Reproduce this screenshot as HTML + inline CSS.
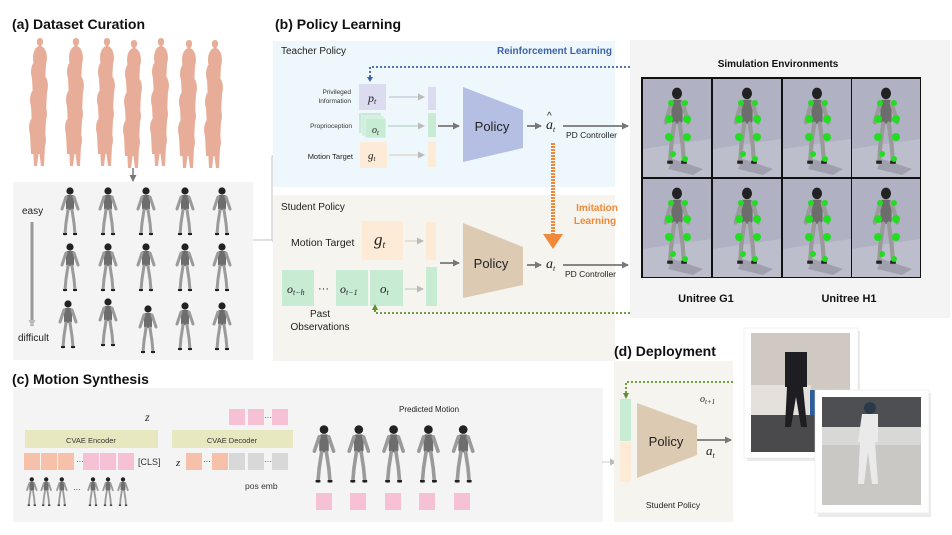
<!DOCTYPE html>
<html><head><meta charset="utf-8"><style>
html,body{margin:0;padding:0;background:#fff;width:952px;height:535px;overflow:hidden}
svg{display:block}
text{font-family:"Liberation Sans",Arial,sans-serif}
.t{font-weight:bold;font-size:14px;fill:#111}
.s{font-size:10px;fill:#222}
.i{font-family:"Liberation Serif",serif;font-style:italic;fill:#222}
</style></head><body>
<svg width="952" height="535" viewBox="0 0 952 535" xmlns="http://www.w3.org/2000/svg">
<defs>
<marker id="ag" markerWidth="8" markerHeight="8" refX="6" refY="4" orient="auto" markerUnits="userSpaceOnUse"><path d="M0,0.5 L7,4 L0,7.5 z" fill="#777"/></marker>
<marker id="al" markerWidth="8" markerHeight="8" refX="6" refY="4" orient="auto" markerUnits="userSpaceOnUse"><path d="M0,0.5 L7,4 L0,7.5 z" fill="#bbb"/></marker>
<g id="rb"><circle cx="10" cy="4" r="3.6" fill="#222"/><rect x="6" y="8" width="8" height="15" rx="2" fill="#6d6d6d"/><path d="M6,10 L2,22 M14,10 L18,22 M8,23 L6,36 L5,47 M12,23 L14,36 L15,47" stroke="#9a9a9a" stroke-width="3" fill="none" stroke-linecap="round"/><path d="M3,47 h4 M13,47 h4" stroke="#222" stroke-width="2"/></g>
<g id="hm"><path d="M10,0 C14,0 14,6 11,8 C17,10 18,20 16,26 L15,46 L12,46 L10,30 L8,46 L5,46 L4,26 C2,20 3,10 9,8 C6,6 6,0 10,0z" fill="#e8ad98"/></g>
<g id="col"><use href="#hm" x="2" y="0"/><use href="#hm" x="0" y="14"/><use href="#hm" x="3" y="28"/><use href="#hm" x="-1" y="42"/><use href="#hm" x="2" y="56"/><use href="#hm" x="-2" y="70"/><use href="#hm" x="1" y="82"/></g>
<g id="rbg"><rect x="0" y="0" width="68" height="98" fill="#b0b2c4"/><path d="M0,70 L68,60 L68,98 L0,98z" fill="#bdbecc"/><path d="M30,80 L60,90 L50,96 L25,90z" fill="#8a8b98" opacity="0.6"/><g transform="translate(20,8) scale(1.4,1.6)"><use href="#rb"/></g><circle cx="26" cy="40" r="4" fill="#22dd22"/><circle cx="44" cy="40" r="4" fill="#22dd22"/><circle cx="26" cy="58" r="4" fill="#22dd22"/><circle cx="44" cy="58" r="4" fill="#22dd22"/><circle cx="30" cy="75" r="3" fill="#22dd22"/><circle cx="42" cy="80" r="3" fill="#22dd22"/><circle cx="28" cy="24" r="3" fill="#22dd22"/><circle cx="42" cy="24" r="3" fill="#22dd22"/></g>
</defs>

<!-- (a) -->
<text x="12" y="29" class="t">(a) Dataset Curation</text>
<g>
<use href="#col" x="28" y="38"/>
<use href="#col" x="64" y="38"/>
<use href="#col" x="95" y="38"/>
<use href="#col" x="122" y="40"/>
<use href="#col" x="149" y="38"/>
<use href="#col" x="177" y="40"/>
<use href="#col" x="203" y="40"/>
</g>
<line x1="133" y1="168" x2="133" y2="181" stroke="#777" stroke-width="1.5" marker-end="url(#ag)"/>
<rect x="13" y="182" width="240" height="178" fill="#f4f4f4"/>
<text x="22" y="214" class="s">easy</text>
<line x1="32" y1="222" x2="32" y2="326" stroke="#999" stroke-width="3" marker-end="url(#al)"/>
<text x="18" y="341" class="s">difficult</text>
<g>
<use href="#rb" x="60" y="187"/><use href="#rb" x="98" y="187"/><use href="#rb" x="136" y="187"/><use href="#rb" x="175" y="187"/><use href="#rb" x="212" y="187"/>
<use href="#rb" x="60" y="243"/><use href="#rb" x="98" y="243"/><use href="#rb" x="136" y="243"/><use href="#rb" x="175" y="243"/><use href="#rb" x="212" y="243"/>
<use href="#rb" x="58" y="300"/><use href="#rb" x="98" y="298"/><use href="#rb" x="138" y="305"/><use href="#rb" x="175" y="302"/><use href="#rb" x="212" y="302"/>
</g>
<path d="M253,240 H272 V156" stroke="#ccc" stroke-width="1.2" fill="none"/>
<line x1="272" y1="156" x2="292" y2="156" stroke="#ccc" stroke-width="1.2" marker-end="url(#al)"/>
<line x1="272" y1="241" x2="286" y2="241" stroke="#ccc" stroke-width="1.2" marker-end="url(#al)"/>

<!-- (b) -->
<text x="275" y="29" class="t">(b) Policy Learning</text>
<rect x="273" y="41" width="342" height="146" fill="#eef8fc"/>
<rect x="273" y="195" width="342" height="166" fill="#f5f4ee"/>
<text x="281" y="54" font-size="10" fill="#222">Teacher Policy</text>
<text x="612" y="54" font-size="10" font-weight="bold" fill="#3c62a8" text-anchor="end">Reinforcement Learning</text>
<path d="M630,67 H370 V78" stroke="#3c62a8" stroke-width="1.8" stroke-dasharray="2,2" fill="none"/>
<path d="M367,77 L370,82 L373,77z" fill="#3c62a8"/>
<text x="351" y="94" font-size="6.5" fill="#333" text-anchor="end">Privileged</text>
<text x="351" y="103" font-size="6.5" fill="#333" text-anchor="end">Information</text>
<rect x="359" y="84" width="27" height="26" fill="#dcdcf0"/>
<text x="368" y="102" class="i" font-size="12">p<tspan font-size="8" dy="2">t</tspan></text>
<text x="352" y="128" font-size="6.5" fill="#333" text-anchor="end">Proprioception</text>
<rect x="359" y="113" width="22" height="20" fill="#c8ebd4"/><rect x="362" y="116" width="22" height="20" fill="#c8ebd4" stroke="#eef8fc" stroke-width="0.8"/><rect x="365" y="118" width="21" height="20" fill="#c8ebd4" stroke="#eef8fc" stroke-width="0.8"/>
<text x="372" y="133" class="i" font-size="10">o<tspan font-size="7" dy="2">t</tspan></text>
<text x="353" y="159" font-size="7.5" fill="#222" text-anchor="end">Motion Target</text>
<rect x="360" y="142" width="27" height="26" fill="#fdebd8"/>
<text x="368" y="159" class="i" font-size="11">g<tspan font-size="7" dy="2">t</tspan></text>
<rect x="428" y="87" width="8" height="23" fill="#dcdcf0"/>
<rect x="428" y="113" width="8" height="24" fill="#c8ebd4"/>
<rect x="428" y="142" width="8" height="25" fill="#fdebd8"/>
<line x1="389" y1="97" x2="424" y2="97" stroke="#b8b8d0" stroke-width="1" marker-end="url(#al)"/>
<line x1="388" y1="126" x2="424" y2="126" stroke="#aac8b8" stroke-width="1" marker-end="url(#al)"/>
<line x1="389" y1="155" x2="424" y2="155" stroke="#d8c8b8" stroke-width="1" marker-end="url(#al)"/>
<line x1="438" y1="126" x2="459" y2="126" stroke="#777" stroke-width="1.8" marker-end="url(#ag)"/>
<path d="M463,87 L523,110 L523,148 L463,162z" fill="#b4bfe3"/>
<text x="492" y="131" font-size="13" fill="#222" text-anchor="middle">Policy</text>
<line x1="527" y1="126" x2="541" y2="126" stroke="#777" stroke-width="1.8" marker-end="url(#ag)"/>
<text x="546" y="129" class="i" font-size="14">a<tspan font-size="8" dy="3">t</tspan></text>
<text x="547" y="119" font-size="10" fill="#222">^</text>
<line x1="563" y1="126" x2="628" y2="126" stroke="#777" stroke-width="1.8" marker-end="url(#ag)"/>
<text x="566" y="138" font-size="8.5" fill="#222">PD Controller</text>
<line x1="553" y1="143" x2="553" y2="236" stroke="#f08a3a" stroke-width="4" stroke-dasharray="2,1"/>
<path d="M543,234 L563,234 L553,249z" fill="#f08a3a"/>
<text x="597" y="211" font-size="10" font-weight="bold" fill="#f08a3a" text-anchor="middle">Imitation</text>
<text x="595" y="224" font-size="10" font-weight="bold" fill="#f08a3a" text-anchor="middle">Learning</text>

<text x="281" y="210" font-size="10" fill="#222">Student Policy</text>
<text x="291" y="246" font-size="10.5" fill="#222">Motion Target</text>
<rect x="362" y="221" width="41" height="39" fill="#fdebd8"/>
<text x="374" y="245" class="i" font-size="17">g<tspan font-size="10" dy="3">t</tspan></text>
<rect x="426" y="222" width="10" height="38" fill="#fdebd8"/>
<line x1="405" y1="241" x2="423" y2="241" stroke="#d8c8b8" stroke-width="1" marker-end="url(#al)"/>
<rect x="282" y="270" width="32" height="36" fill="#c8ebd4"/>
<rect x="336" y="270" width="32" height="36" fill="#c8ebd4"/>
<rect x="370" y="270" width="33" height="36" fill="#c8ebd4"/>
<text x="287" y="293" class="i" font-size="12">o<tspan font-size="8" dy="2">t−h</tspan></text>
<text x="318" y="292" font-size="11" fill="#222">···</text>
<text x="340" y="293" class="i" font-size="12">o<tspan font-size="8" dy="2">t−1</tspan></text>
<text x="380" y="293" class="i" font-size="13">o<tspan font-size="8" dy="2">t</tspan></text>
<rect x="426" y="267" width="11" height="39" fill="#c8ebd4"/>
<line x1="405" y1="289" x2="423" y2="289" stroke="#aac8b8" stroke-width="1" marker-end="url(#al)"/>
<text x="320" y="317" font-size="10" fill="#222" text-anchor="middle">Past</text>
<text x="320" y="330" font-size="10" fill="#222" text-anchor="middle">Observations</text>
<line x1="440" y1="263" x2="459" y2="263" stroke="#777" stroke-width="1.8" marker-end="url(#ag)"/>
<path d="M463,223 L523,247 L523,285 L463,298z" fill="#dccab3"/>
<text x="491" y="268" font-size="13" fill="#222" text-anchor="middle">Policy</text>
<line x1="527" y1="265" x2="541" y2="265" stroke="#777" stroke-width="1.8" marker-end="url(#ag)"/>
<text x="546" y="268" class="i" font-size="14">a<tspan font-size="8" dy="3">t</tspan></text>
<line x1="563" y1="265" x2="628" y2="265" stroke="#777" stroke-width="1.8" marker-end="url(#ag)"/>
<text x="565" y="277" font-size="8.5" fill="#222">PD Controller</text>
<path d="M630,313 H375 V308" stroke="#5f8f30" stroke-width="1.8" stroke-dasharray="2,2" fill="none"/>
<path d="M372,310 L375,304 L378,310z" fill="#5f8f30"/>

<!-- Simulation -->
<rect x="630" y="40" width="320" height="278" fill="#f4f4f4"/>
<text x="778" y="67" font-size="10" font-weight="bold" fill="#111" text-anchor="middle">Simulation Environments</text>
<rect x="641" y="77" width="280" height="201" fill="#111"/>
<use href="#rbg" x="643" y="79"/><use href="#rbg" x="713" y="79"/><use href="#rbg" x="783" y="79"/><use href="#rbg" x="852" y="79"/>
<use href="#rbg" x="643" y="179"/><use href="#rbg" x="713" y="179"/><use href="#rbg" x="783" y="179"/><use href="#rbg" x="852" y="179"/>
<text x="706" y="302" font-size="11" font-weight="bold" fill="#111" text-anchor="middle">Unitree G1</text>
<text x="849" y="302" font-size="11" font-weight="bold" fill="#111" text-anchor="middle">Unitree H1</text>

<!-- (c) -->
<text x="12" y="384" class="t">(c) Motion Synthesis</text>
<rect x="13" y="388" width="590" height="134" fill="#f4f4f4"/>
<text x="145" y="421" class="i" font-size="12">z</text>
<rect x="25" y="430" width="133" height="18" fill="#e8e8c0"/>
<text x="91" y="443" font-size="7.5" fill="#333" text-anchor="middle">CVAE Encoder</text>
<rect x="172" y="430" width="121" height="18" fill="#e8e8c0"/>
<text x="232" y="443" font-size="7.5" fill="#333" text-anchor="middle">CVAE Decoder</text>
<rect x="24" y="453" width="16" height="17" fill="#f7c0a8"/><rect x="41" y="453" width="16" height="17" fill="#f7c0a8"/><rect x="58" y="453" width="16" height="17" fill="#f7c0a8"/>
<text x="76" y="464" font-size="8" fill="#333">···</text>
<rect x="83" y="453" width="16" height="17" fill="#f6c1d4"/><rect x="100" y="453" width="16" height="17" fill="#f6c1d4"/><rect x="118" y="453" width="16" height="17" fill="#f6c1d4"/>
<text x="138" y="465" font-size="9" fill="#333">[CLS]</text>
<text x="176" y="466" class="i" font-size="11">z</text>
<rect x="186" y="453" width="16" height="17" fill="#f7c0a8"/>
<text x="203" y="464" font-size="8" fill="#333">···</text>
<rect x="212" y="453" width="16" height="17" fill="#f7c0a8"/>
<rect x="229" y="453" width="16" height="17" fill="#d8d8d8"/><rect x="248" y="453" width="16" height="17" fill="#d8d8d8"/>
<text x="264" y="464" font-size="8" fill="#333">···</text>
<rect x="272" y="453" width="16" height="17" fill="#d8d8d8"/>
<rect x="229" y="409" width="16" height="16" fill="#f6c1d4"/><rect x="248" y="409" width="16" height="16" fill="#f6c1d4"/>
<text x="264" y="420" font-size="8" fill="#333">···</text>
<rect x="272" y="409" width="16" height="16" fill="#f6c1d4"/>
<text x="245" y="489" font-size="8.5" fill="#333">pos emb</text>
<g transform="scale(0.6)">
<use href="#rb" x="43" y="795"/><use href="#rb" x="67" y="795"/><use href="#rb" x="93" y="795"/>
<use href="#rb" x="145" y="795"/><use href="#rb" x="170" y="795"/><use href="#rb" x="195" y="795"/>
</g>
<text x="73" y="492" font-size="8" fill="#333">···</text>
<text x="399" y="412" font-size="8" fill="#222">Predicted Motion</text>
<g transform="scale(1.2)">
<use href="#rb" x="260" y="354"/><use href="#rb" x="289" y="354"/><use href="#rb" x="318" y="354"/><use href="#rb" x="347" y="354"/><use href="#rb" x="376" y="354"/>
</g>
<rect x="316" y="493" width="16" height="17" fill="#f6c1d4"/><rect x="350" y="493" width="16" height="17" fill="#f6c1d4"/><rect x="385" y="493" width="16" height="17" fill="#f6c1d4"/><rect x="419" y="493" width="16" height="17" fill="#f6c1d4"/><rect x="454" y="493" width="16" height="17" fill="#f6c1d4"/>
<line x1="602" y1="462" x2="616" y2="462" stroke="#ccc" stroke-width="1" marker-end="url(#al)"/>

<!-- (d) -->
<text x="614" y="356" class="t">(d) Deployment</text>
<rect x="614" y="361" width="119" height="161" fill="#f5f4ee"/>
<path d="M733,382 H626 V394" stroke="#5f8f30" stroke-width="1.8" stroke-dasharray="2,2" fill="none"/>
<path d="M623,393 L626,399 L629,393z" fill="#5f8f30"/>
<rect x="620" y="399" width="11" height="42" fill="#c8ebd4"/>
<rect x="620" y="442" width="11" height="40" fill="#fdebd8"/>
<path d="M637,403 L697,425 L697,455 L637,478z" fill="#dccab3"/>
<text x="666" y="446" font-size="13" fill="#222" text-anchor="middle">Policy</text>
<line x1="697" y1="440" x2="731" y2="440" stroke="#777" stroke-width="1.8" marker-end="url(#ag)"/>
<text x="706" y="455" class="i" font-size="13">a<tspan font-size="8" dy="3">t</tspan></text>
<text x="700" y="402" class="i" font-size="10">o<tspan font-size="7" dy="2">t+1</tspan></text>
<text x="673" y="508" font-size="8.5" fill="#222" text-anchor="middle">Student Policy</text>

<!-- photos -->
<rect x="747" y="331" width="113" height="130" fill="#ddd" opacity="0.6"/>
<rect x="744" y="328" width="114" height="130" fill="#fff" stroke="#e4e4e4" stroke-width="0.5"/>
<rect x="751" y="333" width="99" height="119" fill="#cfc9c2"/>
<rect x="751" y="415" width="99" height="37" fill="#4a4a4c"/>
<rect x="751" y="385" width="60" height="30" fill="#e4e1dc"/>
<rect x="810" y="390" width="20" height="25" fill="#2f5f9a"/>
<path d="M785,352 h22 v35 h-4 l4,40 h-6 l-5,-30 l-5,30 h-6 l2,-40 h-2z" fill="#1e1e22"/>
<rect x="818" y="393" width="113" height="124" fill="#ddd" opacity="0.6"/>
<rect x="815" y="390" width="114" height="123" fill="#fff" stroke="#e4e4e4" stroke-width="0.5"/>
<rect x="822" y="397" width="99" height="108" fill="#b8b8b6"/>
<rect x="822" y="397" width="99" height="30" fill="#4e4f52"/>
<rect x="822" y="427" width="99" height="18" fill="#d8d8d6"/>
<rect x="822" y="445" width="99" height="60" fill="#c9c8c4"/>
<circle cx="870" cy="408" r="6" fill="#2a3a48"/>
<path d="M862,414 h16 v28 h-3 l3,42 h-6 l-4,-32 l-4,32 h-6 l2,-42 h-2z" fill="#eaeaea"/>
</svg>
</body></html>
